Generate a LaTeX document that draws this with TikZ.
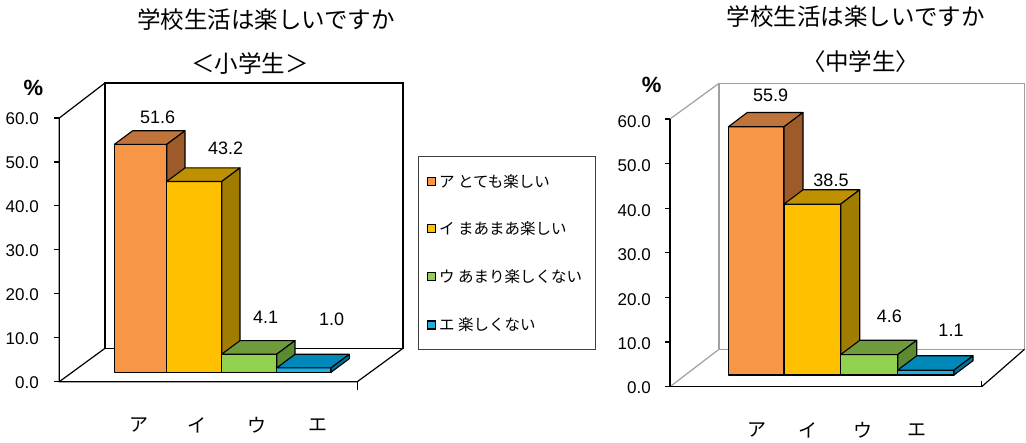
\documentclass[tikz,border=0pt]{standalone}
\usepackage{fontspec}
\setmainfont{Liberation Sans}
\newfontfamily\jp{Noto Sans CJK JP}
\newfontfamily\jpp[RawFeature=+palt]{Noto Sans CJK JP}
\definecolor{orF}{HTML}{F79646}\definecolor{orT}{HTML}{C0733A}\definecolor{orS}{HTML}{9C5B29}
\definecolor{yeF}{HTML}{FFC000}\definecolor{yeT}{HTML}{BF9000}\definecolor{yeS}{HTML}{A07C00}
\definecolor{grF}{HTML}{92D050}\definecolor{grT}{HTML}{6E9C3C}\definecolor{grS}{HTML}{5C8A32}
\definecolor{blF}{HTML}{1AAFE6}\definecolor{blT}{HTML}{0088B8}\definecolor{blS}{HTML}{006F9A}
\definecolor{wallgray}{HTML}{A0A0A0}
% x0 x1 base h dx dy front top side
\newcommand\drawbar[9]{%
  \filldraw[barline,fill=#7] (#1,#3) rectangle (#2,{#3-#4});
  \filldraw[barline,fill=#8] (#1,{#3-#4}) -- ({#1+#5},{#3-#4-#6}) -- ({#2+#5},{#3-#4-#6}) -- (#2,{#3-#4}) -- cycle;
  \filldraw[barline,fill=#9] (#2,#3) -- (#2,{#3-#4}) -- ({#2+#5},{#3-#4-#6}) -- ({#2+#5},{#3-#6}) -- cycle;
}
\begin{document}
\begin{tikzpicture}[x=1pt,y=-1pt,
  barline/.style={draw=black,line width=1.1pt,line join=round},
  wall/.style={draw=black,line width=1.2pt},
  gwall/.style={draw=wallgray,line width=1.2pt},
  valtxt/.style={inner sep=0pt,font=\fontsize{18}{20}\selectfont},
  ticktxt/.style={inner sep=0pt,anchor=east,font=\fontsize{17}{19}\selectfont},
  titletxt/.style={inner sep=0pt,font=\jp\fontsize{23.5}{26}\selectfont},
  cattxt/.style={inner sep=0pt,font=\jp\fontsize{19}{21}\selectfont},
  legtxt/.style={inner sep=0pt,anchor=west,font=\jp\fontsize{15.5}{17}\selectfont},
  legmark/.style={draw=black,line width=1.5pt,minimum size=8pt,inner sep=0pt},
  pct/.style={inner sep=0pt,font=\bfseries\fontsize{22}{24}\selectfont}]
\useasboundingbox (0,0) rectangle (1026,443);
\clip (0,0) rectangle (1026,443);

% ===== Left chart =====
\node[titletxt] (t1) at (266,20) {学校生活は楽しいですか};
\node[titletxt] (s1) at (250,63.3) {＜小学生＞};
\node[pct] (p1) at (33.3,88) {\%};
% frame
\coordinate (LAt) at (59.3,118);
\coordinate (LAb) at (59.3,381.7);
\coordinate (LWtl) at (105,83);
\coordinate (LWbl) at (105,348.3);
\coordinate (LWtr) at (403,83);
\coordinate (LWbr) at (403,348.3);
\coordinate (LFr) at (357.3,381.7);
\draw[wall] (LAt) -- (LWtl);
\draw[wall] (LWtl) -- (LWtr) -- (LWbr) -- (LWbl) -- cycle;
\draw[wall] (LAb) -- (LWbl);
\draw[wall] (LAt) -- (LAb) -- (LFr) -- (LWbr);
\draw[wall] (LFr) -- ++(0,8);
\foreach \i [evaluate=\i as \yy using {381.7-\i*43.95}] in {0,...,6}{
  \draw[wall] (54,\yy) -- (59.3,\yy);
}
\foreach \i/\lab in {0/0.0,1/10.0,2/20.0,3/30.0,4/40.0,5/50.0,6/60.0}{
  \node[ticktxt] (ly\i) at (39,{382.5-\i*44}) {\lab};
}
% bars
\drawbar{114.3}{166.7}{372.3}{227.9}{18.3}{13.6}{orF}{orT}{orS}
\drawbar{166.7}{221.7}{372.3}{190.8}{18.3}{13.6}{yeF}{yeT}{yeS}
\drawbar{221.7}{276.7}{372.3}{18.1}{18.3}{13.6}{grF}{grT}{grS}
\drawbar{276.7}{331}{372.3}{4.4}{18.3}{13.6}{blF}{blT}{blS}
\node[valtxt] (lv1) at (157.7,117.3) {51.6};
\node[valtxt] (lv2) at (225.7,148.3) {43.2};
\node[valtxt] (lv3) at (265.7,317.3) {4.1};
\node[valtxt] (lv4) at (331.7,319.3) {1.0};
\node[cattxt] (lc1) at (139.3,425) {ア};
\node[cattxt] (lc2) at (196.7,425) {イ};
\node[cattxt] (lc3) at (256.7,425) {ウ};
\node[cattxt] (lc4) at (318.3,425) {エ};

% ===== Legend =====
\node[draw=black!75,line width=0.9pt,minimum width=176.7pt,minimum height=193.3pt,inner sep=0pt] (leg) at (506.7,253.3) {};
\node[legmark,fill=orF] (m1) at (431.7,181.7) {};
\node[legmark,fill=yeF] (m2) at (431.7,228.3) {};
\node[legmark,fill=grF] (m3) at (431.7,276.7) {};
\node[legmark,fill=blF] (m4) at (431.7,325) {};
\node[legtxt] (g1) at (439,181.7) {ア とても楽しい};
\node[legtxt] (g2) at (439,228.3) {イ まあまあ楽しい};
\node[legtxt] (g3) at (439,276.7) {ウ あまり楽しくない};
\node[legtxt] (g4) at (439,325) {エ 楽しくない};

% ===== Right chart =====
\node[titletxt] (t2) at (855.8,16.7) {学校生活は楽しいですか};
\node[titletxt,font=\jpp\fontsize{23.5}{26}\selectfont] (s2) at (860.5,61.7) {〈中学生〉};
\node[pct] (p2) at (651.7,85) {\%};
\coordinate (RAt) at (670,119);
\coordinate (RAb) at (670,386.7);
\coordinate (RWtl) at (719,83.3);
\coordinate (RWbl) at (719,349.3);
\coordinate (RWtr) at (1024.5,83.3);
\coordinate (RWbr) at (1024.5,349.3);
\coordinate (RFr) at (981.7,386.7);
\draw[gwall] (RAt) -- (RWtl);
\draw[gwall] (RWtl) -- (RWtr) -- (RWbr) -- (RWbl) -- cycle;
\draw[gwall] (RAb) -- (RWbl);
\draw[wall] (RFr) -- (RWbr);
\draw[wall] (RAt) -- (RAb) -- (RFr);
\draw[wall] (RFr) -- ++(0,-6);
\foreach \i [evaluate=\i as \yy using {386.7-\i*44.6}] in {0,...,6}{
  \draw[wall] (665,\yy) -- (670,\yy);
}
\foreach \i/\lab in {0/0.0,1/10.0,2/20.0,3/30.0,4/40.0,5/50.0,6/60.0}{
  \node[ticktxt] (ry\i) at (651,{388-\i*44.4}) {\lab};
}
\drawbar{728.3}{784}{375}{248.2}{19}{14.3}{orF}{orT}{orS}
\drawbar{784}{840.7}{375}{170.9}{19}{14.3}{yeF}{yeT}{yeS}
\drawbar{840.7}{897.7}{375}{20.4}{19}{14.3}{grF}{grT}{grS}
\drawbar{897.7}{954}{375}{4.9}{19}{14.3}{blF}{blT}{blS}
\node[valtxt] (rv1) at (770.7,95) {55.9};
\node[valtxt] (rv2) at (831,180) {38.5};
\node[valtxt] (rv3) at (889.3,316) {4.6};
\node[valtxt] (rv4) at (951,330) {1.1};
\node[cattxt] (rc1) at (756.7,430) {ア};
\node[cattxt] (rc2) at (808.3,430) {イ};
\node[cattxt] (rc3) at (863.3,430) {ウ};
\node[cattxt] (rc4) at (916.7,430) {エ};
\end{tikzpicture}
\end{document}
